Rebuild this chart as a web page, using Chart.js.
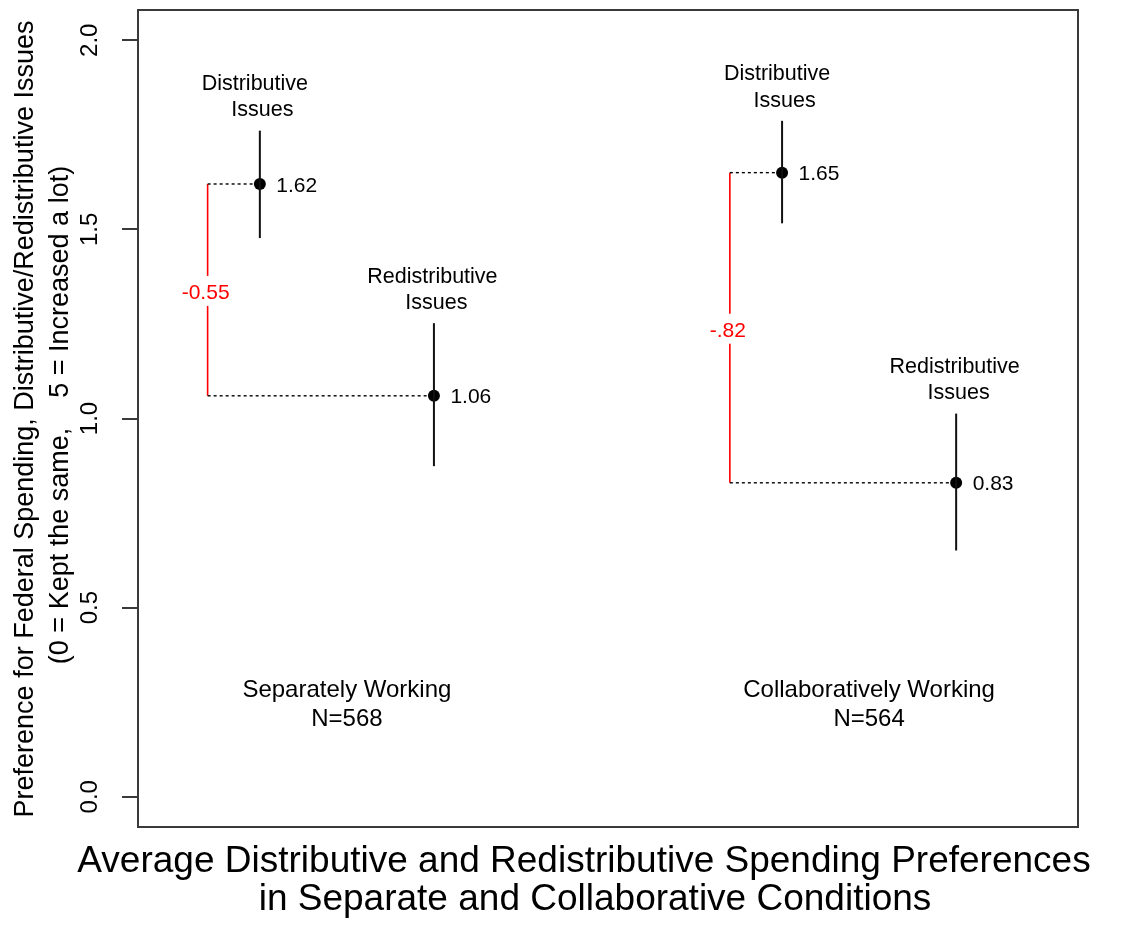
<!DOCTYPE html>
<html>
<head>
<meta charset="utf-8">
<script src="https://cdn.jsdelivr.net/npm/chart.js@4.4.0/dist/chart.umd.min.js"></script>
<style>
  html, body { margin: 0; padding: 0; background: #ffffff; }
  #wrap { width: 1136px; height: 926px; }
</style>
</head>
<body>
<div id="wrap"><canvas id="chart" width="1136" height="926"></canvas></div>
<script>
// Conditions and their sample sizes
const conditions = ['Separately Working', 'Collaboratively Working'];
const sampleSizes = ['N=568', 'N=564'];
const conditionX = [1.5, 4.5];

// Positions of the two issue types inside each condition, and of the difference bracket
const distX = [1, 4];
const redistX = [2, 5];
const bracketX = [0.7, 3.7];

// Mean preferences with confidence bounds
const distMean = [1.62, 1.65];
const distLow = [1.477, 1.516];
const distHigh = [1.761, 1.787];
const redistMean = [1.06, 0.83];
const redistLow = [0.874, 0.651];
const redistHigh = [1.252, 1.013];

// Differences between the two issue types
const diffLabels = ['-0.55', '-.82'];

// Issue names drawn above each interval
const distName = ['Distributive', 'Issues'];
const redistName = ['Redistributive', 'Issues'];

// Y axis ticks
const yTickValues = [0, 0.5, 1, 1.5, 2];
const yTickLabels = ['0.0', '0.5', '1.0', '1.5', '2.0'];

const yTitle = [
  'Preference for Federal Spending, Distributive/Redistributive Issues',
  '(0 = Kept the same,    5 = Increased a lot)'
];
const mainTitle = [
  'Average Distributive and Redistributive Spending Preferences',
  'in Separate and Collaborative Conditions'
];

const FONT = '"Liberation Sans", Arial, Helvetica, sans-serif';
const INK = '#000000';
const FRAME = '#3a3a3a';

function seg(x1, y1, x2, y2, style) {
  return Object.assign({
    data: [{ x: x1, y: y1 }, { x: x2, y: y2 }],
    showLine: true,
    pointRadius: 0,
    pointHoverRadius: 0,
    fill: false,
    tension: 0,
    borderCapStyle: 'butt'
  }, style);
}

const dotted = { borderColor: '#000000', borderWidth: 1.4, borderDash: [3, 3] };
const redLine = { borderColor: '#ff0000', borderWidth: 1.6 };
const ciLine = { borderColor: '#111111', borderWidth: 2 };

const datasets = [];
for (let i = 0; i < conditions.length; i++) {
  datasets.push(seg(bracketX[i], distMean[i], distX[i], distMean[i], dotted));
  datasets.push(seg(bracketX[i], redistMean[i], redistX[i], redistMean[i], dotted));
  datasets.push(seg(bracketX[i], distMean[i], bracketX[i], redistMean[i], redLine));
  datasets.push(seg(distX[i], distLow[i], distX[i], distHigh[i], ciLine));
  datasets.push(seg(redistX[i], redistLow[i], redistX[i], redistHigh[i], ciLine));
}
const meanPoints = [];
for (let i = 0; i < conditions.length; i++) {
  meanPoints.push({ x: distX[i], y: distMean[i] });
  meanPoints.push({ x: redistX[i], y: redistMean[i] });
}
datasets.push({
  data: meanPoints,
  showLine: false,
  pointRadius: 6,
  pointHoverRadius: 6,
  pointBackgroundColor: '#000000',
  pointBorderColor: '#000000',
  pointBorderWidth: 0
});

// Frame, annotations and titles
const annotate = {
  id: 'annotate',
  afterDatasetsDraw(chart) {
    const ctx = chart.ctx;
    const xs = chart.scales.x, ys = chart.scales.y;
    const area = chart.chartArea;
    ctx.save();

    // box around the plotting region
    ctx.strokeStyle = FRAME;
    ctx.lineWidth = 2;
    ctx.strokeRect(area.left, area.top, area.right - area.left, area.bottom - area.top);

    ctx.fillStyle = INK;

    // value labels beside each mean
    ctx.font = '21px ' + FONT;
    ctx.textAlign = 'left';
    ctx.textBaseline = 'alphabetic';
    for (let i = 0; i < conditions.length; i++) {
      [[distX[i], distMean[i]], [redistX[i], redistMean[i]]].forEach(([x, y]) => {
        ctx.fillText(y.toFixed(2), xs.getPixelForValue(x) + 16.5, ys.getPixelForValue(y) + 7.6);
      });
    }

    // issue names above the intervals
    ctx.font = '21.5px ' + FONT;
    ctx.textAlign = 'center';
    for (let i = 0; i < conditions.length; i++) {
      const items = [[distX[i], distHigh[i], distName, -5], [redistX[i], redistHigh[i], redistName, -1.5]];
      items.forEach(([x, hi, name, nudge]) => {
        const px = xs.getPixelForValue(x);
        const py = ys.getPixelForValue(hi);
        ctx.fillText(name[0], px + nudge, py - 40.5);
        ctx.fillText(name[1], px + 2.5, py - 14.3);
      });
    }

    // difference labels on the red brackets
    ctx.font = '21px ' + FONT;
    for (let i = 0; i < conditions.length; i++) {
      const px = xs.getPixelForValue(bracketX[i]);
      const mid = ys.getPixelForValue((distMean[i] + redistMean[i]) / 2) + 1;
      const w = ctx.measureText(diffLabels[i]).width;
      ctx.fillStyle = '#ffffff';
      ctx.fillRect(px - w / 2 - 2, mid - 15, w + 4, 30);
      ctx.fillStyle = '#ff0000';
      ctx.fillText(diffLabels[i], px - 2, mid + 8.5);
    }

    // condition labels
    ctx.fillStyle = INK;
    ctx.font = '24px ' + FONT;
    for (let i = 0; i < conditions.length; i++) {
      const px = xs.getPixelForValue(conditionX[i]);
      const py = ys.getPixelForValue(0.25);
      ctx.fillText(conditions[i], px, py - 4.8);
      ctx.fillText(sampleSizes[i], px, py + 23.4);
    }

    // y axis title, two lines reading upwards
    ctx.font = '27px ' + FONT;
    const titleCenters = [[33, 419], [68, 415]];
    yTitle.forEach((line, k) => {
      ctx.save();
      ctx.translate(titleCenters[k][0], titleCenters[k][1]);
      ctx.rotate(-Math.PI / 2);
      ctx.textAlign = 'center';
      ctx.textBaseline = 'alphabetic';
      ctx.fillText(line, 0, 0);
      ctx.restore();
    });

    // main title under the plot
    ctx.font = '37px ' + FONT;
    ctx.textAlign = 'center';
    ctx.fillText(mainTitle[0], 584, 872);
    ctx.fillText(mainTitle[1], 595, 910);

    ctx.restore();
  }
};

new Chart(document.getElementById('chart'), {
  type: 'scatter',
  data: { datasets },
  options: {
    responsive: false,
    animation: false,
    devicePixelRatio: 1,
    events: [],
    layout: { padding: { left: 0, top: 10, right: 58, bottom: 99 } },
    plugins: {
      legend: { display: false },
      tooltip: { enabled: false },
      title: { display: false }
    },
    scales: {
      x: { type: 'linear', min: 0.3, max: 5.7, display: false },
      y: {
        type: 'linear',
        min: -0.08,
        max: 2.08,
        afterBuildTicks(scale) {
          scale.ticks = yTickValues.map(v => ({ value: v }));
        },
        afterFit(scale) {
          scale.width = 138;
          scale.paddingTop = 0;
          scale.paddingBottom = 0;
        },
        ticks: {
          callback: (v) => yTickLabels[yTickValues.indexOf(v)],
          minRotation: 90,
          maxRotation: 90,
          crossAlign: 'center',
          padding: 15,
          color: INK,
          font: { family: FONT, size: 24 }
        },
        grid: {
          drawOnChartArea: false,
          drawTicks: true,
          tickLength: 16,
          tickWidth: 2,
          tickColor: FRAME,
          color: FRAME,
          lineWidth: 2
        },
        border: { display: true, color: FRAME, width: 2 }
      }
    }
  },
  plugins: [annotate]
});
</script>
</body>
</html>
